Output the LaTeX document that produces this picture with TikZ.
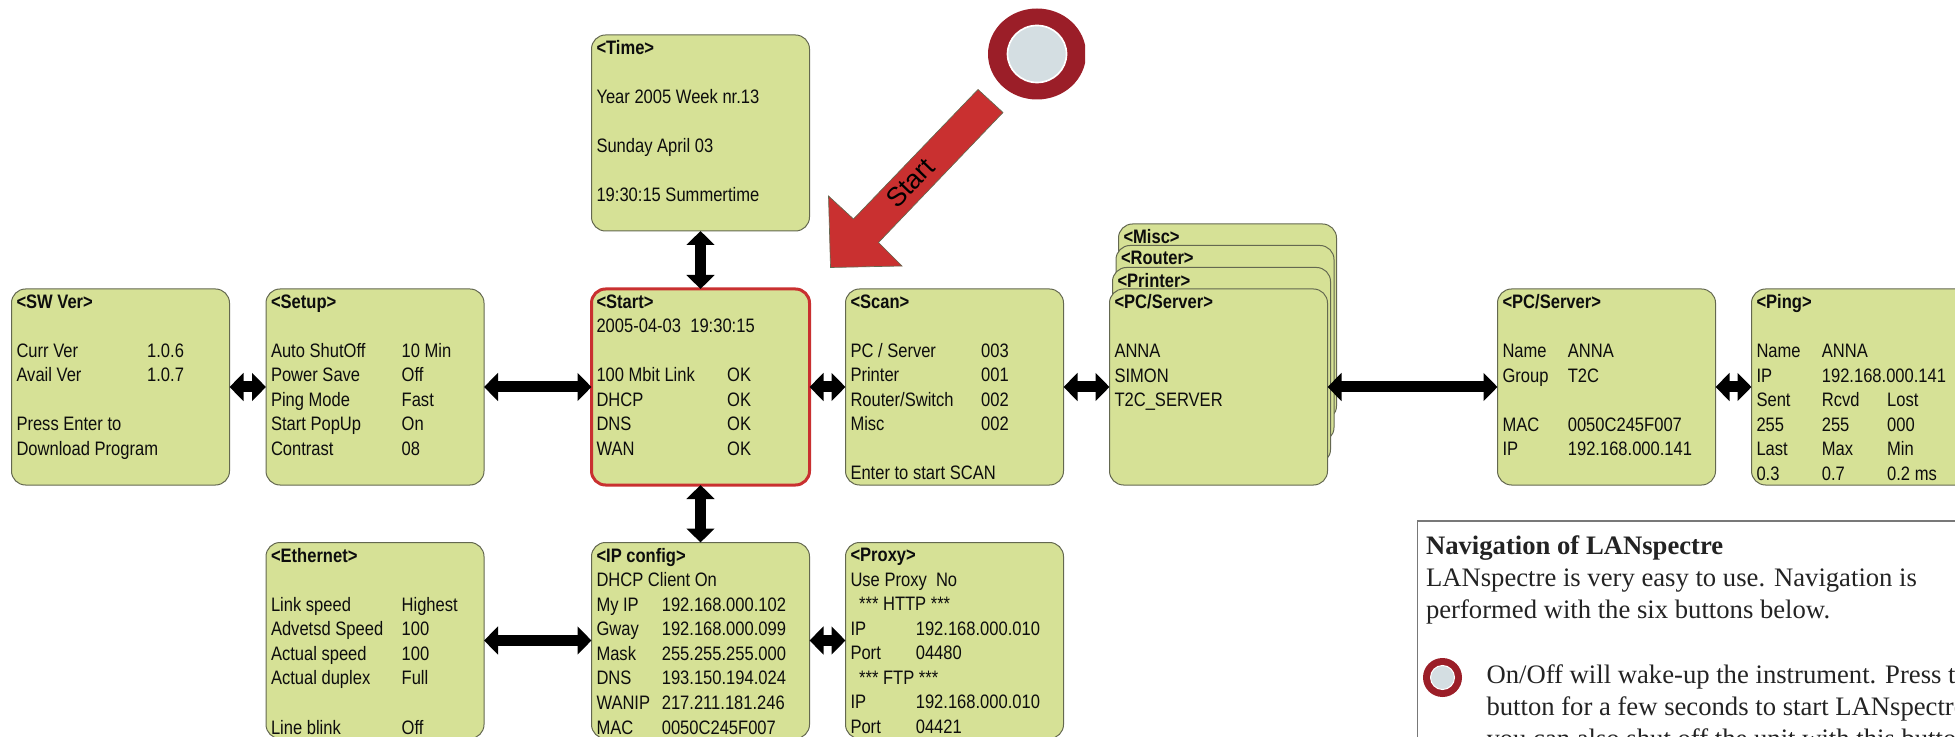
\documentclass[tikz,border=0pt]{standalone}
\usepackage{fontspec}
\setmainfont[FakeStretch=0.85]{Liberation Sans}
\newfontfamily\armfont{Liberation Sans}
\newfontfamily\navfont{Liberation Serif}
\usetikzlibrary{arrows.meta}

\definecolor{lcdgreen}{RGB}{214,225,150}
\definecolor{lcdline}{RGB}{100,104,80}
\definecolor{startred}{RGB}{201,48,48}
\definecolor{btnring}{RGB}{155,30,40}
\definecolor{btnface}{RGB}{212,222,226}
\definecolor{navline}{RGB}{120,120,120}
\definecolor{navtext}{RGB}{35,35,35}

\newcommand{\taba}[1]{\makebox[49pt][l]{#1}}
\newcommand{\tabb}[1]{\makebox[98pt][l]{#1}}

\tikzset{every picture/.style={line width=0.75pt},
  lcdbox/.style={draw=lcdline,fill=lcdgreen,rounded corners=10.5pt,anchor=north west,
    inner xsep=3.75pt,inner ysep=4.25pt,outer sep=0pt,text=black!95,
    font=\fontsize{14.6}{18.4}\selectfont,
    execute at begin node={\begin{minipage}[c][138.5pt][t]{156pt}},
    execute at end node={\end{minipage}}},
  startbox/.style={lcdbox,draw=startred,line width=2.25pt},
  navarrow/.style={line width=8.25pt,{Triangle[width=20.5pt,length=10.5pt]}-{Triangle[width=20.5pt,length=10.5pt]}},
  navtxt/.style={anchor=north west,inner sep=0pt,text=navtext,align=left,
    font=\navfont\fontsize{20}{24}\selectfont}}

\begin{document}
\begin{tikzpicture}[x=0.75pt,y=0.75pt,yscale=-1,xscale=1]
  \path[use as bounding box,clip] (0,0) rectangle (1955,737);

  %Top row
  \node[lcdbox] (swver) at (11.5,289) {\textbf{<SW Ver>}\\ \\ \tabb{Curr Ver}1.0.6\\ \tabb{Avail Ver}1.0.7\\ \\ Press Enter to\\ Download Program};
  \node[lcdbox] (setup) at (266,289) {\textbf{<Setup>}\\ \\ \tabb{Auto ShutOff}10 Min\\ \tabb{Power Save}Off\\ \tabb{Ping Mode}Fast\\ \tabb{Start PopUp}On\\ \tabb{Contrast}08};
  \node[startbox] (start) at (591.5,289) {\textbf{<Start>}\\ 2005-04-03\ \ 19:30:15\\ \\ \tabb{100 Mbit Link}OK\\ \tabb{DHCP}OK\\ \tabb{DNS}OK\\ \tabb{WAN}OK};
  \node[lcdbox] (scan) at (845.5,289) {\textbf{<Scan>}\\ \\ \tabb{PC / Server}003\\ \tabb{Printer}001\\ \tabb{Router/Switch}002\\ \tabb{Misc}002\\ \\ Enter to start SCAN};

  %Card stack
  \node[lcdbox] (misc) at (1118.5,224) {\textbf{<Misc>}};
  \node[lcdbox] (router) at (1116,245.5) {\textbf{<Router>}};
  \node[lcdbox] (printer) at (1112.5,267.5) {\textbf{<Printer>}};
  \node[lcdbox] (pcserver) at (1109.5,289) {\textbf{<PC/Server>}\\ \\ ANNA\\ SIMON\\ T2C\_SERVER};

  \node[lcdbox] (pcdetail) at (1497.5,289) {\textbf{<PC/Server>}\\ \\ \taba{Name}ANNA\\ \taba{Group}T2C\\ \\ \taba{MAC}0050C245F007\\ \taba{IP}192.168.000.141};
  \node[lcdbox] (ping) at (1751.5,289) {\textbf{<Ping>}\\ \\ \taba{Name}ANNA\\ \taba{IP}192.168.000.141\\ \taba{Sent}\taba{Rcvd}Lost\\ \taba{255}\taba{255}000\\ \taba{Last}\taba{Max}Min\\ \taba{0.3}\taba{0.7}0.2 ms};

  %Above and below
  \node[lcdbox] (timebox) at (591.5,35) {\textbf{<Time>}\\ \\ Year 2005 Week nr.13\\ \\ Sunday April 03\\ \\ 19:30:15 Summertime};
  \node[lcdbox] (ethernet) at (266,542.5) {\textbf{<Ethernet>}\\ \\ \tabb{Link speed}Highest\\ \tabb{Advetsd Speed}100\\ \tabb{Actual speed}100\\ \tabb{Actual duplex}Full\\ \\ \tabb{Line blink}Off};
  \node[lcdbox] (ipconfig) at (591.5,542.5) {\textbf{<IP config>}\\ DHCP Client On\\ \taba{My IP}192.168.000.102\\ \taba{Gway}192.168.000.099\\ \taba{Mask}255.255.255.000\\ \taba{DNS}193.150.194.024\\ \taba{WANIP}217.211.181.246\\ \taba{MAC}0050C245F007};
  \node[lcdbox] (proxy) at (845.5,542.5) {\textbf{<Proxy>}\\ Use Proxy\ \ No\\ \hspace*{6.5pt}*** HTTP ***\\ \taba{IP}192.168.000.010\\ \taba{Port}04480\\ \hspace*{6.5pt}*** FTP ***\\ \taba{IP}192.168.000.010\\ \taba{Port}04421};

  %Double arrows
  \foreach \a/\b in {swver/setup,setup/start,start/scan,scan/pcserver,pcserver/pcdetail,pcdetail/ping,ethernet/ipconfig,ipconfig/proxy}
    \draw[navarrow] (\a.east) -- (\b.west);
  \foreach \a/\b in {timebox/start,start/ipconfig}
    \draw[navarrow] (\a.south) -- (\b.north);

  %Start arrow
  \draw[draw=lcdline,fill=startred,line width=0.5pt] (978,89.5) -- (1003,112.5) -- (878.5,242.5) -- (902,266) -- (830.5,267.5) -- (828.5,196) -- (853.5,219) -- cycle;
  \node[rotate=46,inner sep=0pt,font=\armfont\fontsize{20}{20}\selectfont] (startlabel) at (910,183) {Start};

  %Power button
  \begin{scope}
    \clip (980,0) rectangle (1085,110);
    \draw[draw=none,fill=btnring] (1037,54) ellipse (49 and 45.5);
    \draw[draw=white,line width=1.25pt,fill=btnface] (1037,54) ellipse (29.5 and 28.5);
  \end{scope}

  %Text panel
  \draw[navline,line width=1pt] (1417.5,800) -- (1417.5,521) -- (2000,521);
  \node[navtxt] (navhead) at (1425.5,535.5) {\textbf{Navigation of LANspectre}\\LANspectre is very easy to use. Navigation is\\performed with the six buttons below.};
  \draw[draw=none,fill=btnring] (1442.5,677.5) circle (19.5);
  \draw[draw=white,line width=0.75pt,fill=btnface] (1442.5,677.5) circle (12);
  \node[navtxt] (navbody) at (1486,664) {On/Off will wake-up the instrument. Press the\\button for a few seconds to start LANspectre\\you can also shut off the unit with this button};
\end{tikzpicture}
\end{document}
